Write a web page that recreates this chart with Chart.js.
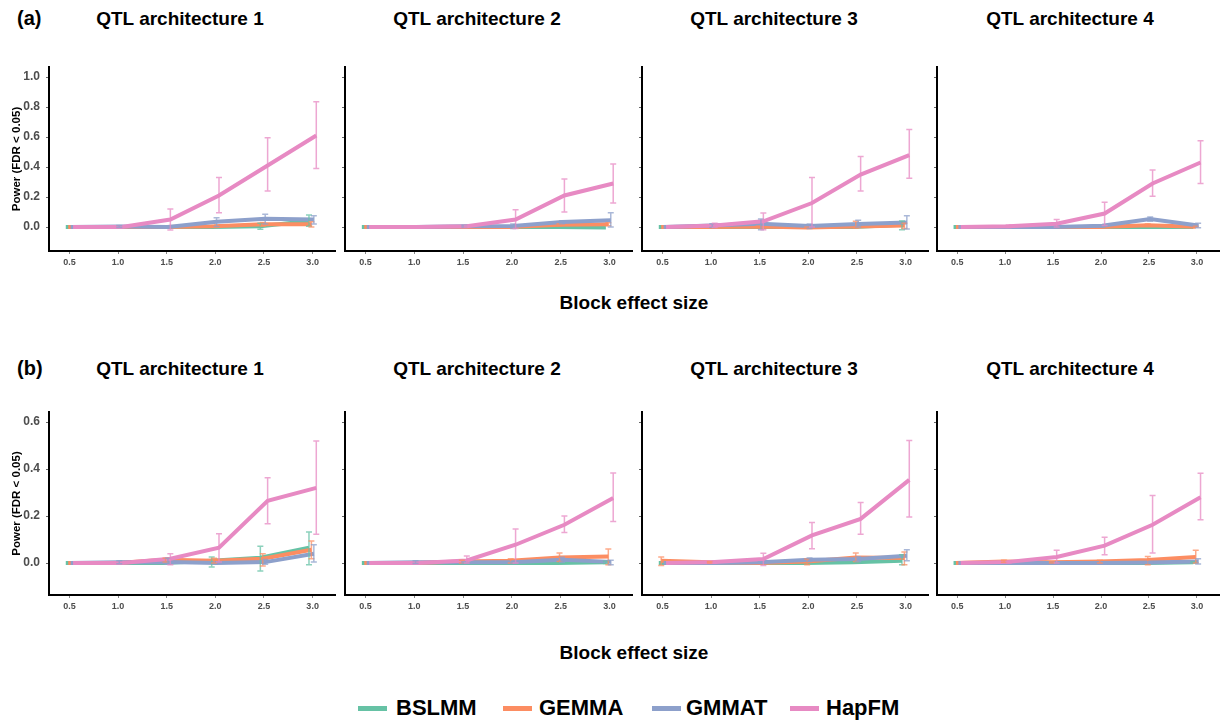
<!DOCTYPE html>
<html>
<head>
<meta charset="utf-8">
<title>Power by block effect size</title>
<script src="https://cdn.jsdelivr.net/npm/chart.js@4.4.1/dist/chart.umd.min.js"></script>
<style>
  body { margin: 0; background: #fff; width: 1221px; height: 721px; position: relative; overflow: hidden;
         font-family: "Liberation Sans", Arial, Helvetica, sans-serif; }
  canvas { position: absolute; }
  .lbl { position: absolute; font-weight: bold; color: #000; white-space: nowrap; line-height: 1; }
  .title { font-size: 19px; transform: translate(-50%, -50%); }
  .tag { font-size: 20px; transform: translateY(-50%); }
  .key { position: absolute; height: 5px; width: 29px; top: 706px; }
  .keytxt { font-size: 22px; top: 697px; }
</style>
</head>
<body>

<div class="lbl tag" style="left:17px; top:18px;">(a)</div>
<div class="lbl tag" style="left:17px; top:368px;">(b)</div>

<div class="lbl title" style="left:180px; top:18px;">QTL architecture 1</div>
<div class="lbl title" style="left:477px; top:18px;">QTL architecture 2</div>
<div class="lbl title" style="left:774px; top:18px;">QTL architecture 3</div>
<div class="lbl title" style="left:1070px; top:18px;">QTL architecture 4</div>

<div class="lbl title" style="left:180px; top:368px;">QTL architecture 1</div>
<div class="lbl title" style="left:477px; top:368px;">QTL architecture 2</div>
<div class="lbl title" style="left:774px; top:368px;">QTL architecture 3</div>
<div class="lbl title" style="left:1070px; top:368px;">QTL architecture 4</div>

<div class="lbl title" style="left:634px; top:302px;">Block effect size</div>
<div class="lbl title" style="left:634px; top:652px;">Block effect size</div>

<div id="legend"></div>

<script>
const effectSizes = [0.5, 1.0, 1.5, 2.0, 2.5, 3.0];
const methods = ['BSLMM', 'GEMMA', 'GMMAT', 'HapFM'];
const colors = ['#66c2a5', '#fc8d62', '#8da0cb', '#e78ac3'];
const dodge = [-0.0375, -0.0125, 0.0125, 0.0375];

// rows: BSLMM, GEMMA, GMMAT, HapFM
const a1Power = [[0, 0, 0, 0, 0.005, 0.04], [0, 0, 0, 0.005, 0.018, 0.018], [0, 0.003, 0, 0.035, 0.055, 0.05], [0, 0, 0.05, 0.21, 0.41, 0.61]];
const a1Lower = [[0, 0, 0, 0, -0.015, 0.005], [0, 0, 0, 0, 0.005, 0], [0, -0.003, 0, 0.004, 0.02, 0.02], [0, 0, -0.02, 0.095, 0.24, 0.39]];
const a1Upper = [[0, 0, 0, 0, 0.025, 0.08], [0, 0, 0, 0.01, 0.03, 0.035], [0, 0.01, 0, 0.062, 0.085, 0.075], [0, 0, 0.12, 0.33, 0.595, 0.835]];

const a2Power = [[0, 0, 0, 0, 0, -0.003], [0, 0, 0, 0, 0.015, 0.018], [0, 0, 0.005, 0.007, 0.033, 0.045], [0, 0, 0.005, 0.05, 0.21, 0.29]];
const a2Lower = [[0, 0, 0, 0, 0, -0.003], [0, 0, 0, 0, 0.008, 0.008], [0, 0, 0, -0.01, 0.022, 0], [0, 0, 0, -0.01, 0.1, 0.16]];
const a2Upper = [[0, 0, 0, 0, 0, -0.003], [0, 0, 0, 0, 0.022, 0.028], [0, 0, 0.012, 0.02, 0.042, 0.095], [0, 0, 0.01, 0.115, 0.32, 0.42]];

const a3Power = [[0, 0, 0, 0, 0, 0.015], [0, 0, 0.003, -0.004, 0.003, 0.01], [0, 0.01, 0.022, 0.007, 0.02, 0.03], [0, 0.01, 0.038, 0.16, 0.35, 0.48]];
const a3Lower = [[0, 0, 0, 0, 0, -0.018], [0, 0, 0, -0.008, -0.007, -0.01], [0, -0.003, -0.018, -0.01, 0, -0.013], [0, -0.004, -0.018, 0, 0.24, 0.325]];
const a3Upper = [[0, 0, 0, 0, 0, 0.04], [0, 0, 0.006, 0, 0.038, 0.025], [0, 0.022, 0.053, 0.02, 0.045, 0.075], [0, 0.025, 0.093, 0.33, 0.47, 0.65]];

const a4Power = [[0, 0, 0, 0, 0, 0], [0, 0, 0, 0, 0.012, 0.002], [0, 0, 0, 0.008, 0.053, 0.01], [0, 0.005, 0.022, 0.09, 0.29, 0.43]];
const a4Lower = [[0, 0, 0, 0, 0, 0], [0, 0, 0, 0, 0.005, 0], [0, 0, 0, 0, 0.038, -0.005], [0, -0.004, 0, 0.01, 0.205, 0.29]];
const a4Upper = [[0, 0, 0, 0, 0, 0], [0, 0, 0, 0, 0.02, 0.005], [0, 0, 0, 0.015, 0.067, 0.025], [0, 0.014, 0.05, 0.165, 0.38, 0.575]];

const b1Power = [[0, 0, 0, 0.01, 0.023, 0.065], [0, 0, 0.014, 0.01, 0.018, 0.057], [0, 0.003, 0.005, 0, 0.004, 0.04], [0, 0, 0.018, 0.065, 0.265, 0.32]];
const b1Lower = [[0, 0, 0, -0.017, -0.034, -0.007], [0, 0, 0.005, 0, -0.013, 0.018], [0, -0.003, -0.005, 0, -0.005, 0.004], [0, 0, -0.007, 0.004, 0.167, 0.123]];
const b1Upper = [[0, 0, 0, 0.026, 0.072, 0.132], [0, 0, 0.02, 0.02, 0.04, 0.094], [0, 0.01, 0.02, 0, 0.015, 0.078], [0, 0, 0.04, 0.125, 0.363, 0.52]];

const b2Power = [[0, 0, 0, 0, 0, 0.003], [0, 0, 0.007, 0.01, 0.024, 0.028], [0, 0.003, 0.003, 0.003, 0.014, 0.005], [0, 0, 0.011, 0.078, 0.163, 0.277]];
const b2Lower = [[0, 0, 0, 0, 0, -0.002], [0, 0, 0, 0, 0.007, -0.007], [0, -0.002, 0, 0, 0.003, -0.007], [0, 0, 0, 0, 0.13, 0.177]];
const b2Upper = [[0, 0, 0, 0, 0, 0.008], [0, 0, 0.012, 0.018, 0.043, 0.06], [0, 0.01, 0.006, 0.006, 0.025, 0.012], [0, 0, 0.03, 0.145, 0.2, 0.383]];

const b3Power = [[0, 0, 0, 0, 0.003, 0.01], [0.01, 0.003, 0, 0.007, 0.024, 0.021], [0, 0, 0.003, 0.014, 0.017, 0.031], [0, 0.005, 0.017, 0.118, 0.188, 0.354]];
const b3Lower = [[0, 0, 0, 0, 0, -0.007], [-0.01, 0, 0, -0.007, 0.007, -0.007], [0, 0, 0, 0.007, 0.007, 0.01], [0, 0, -0.01, 0.061, 0.123, 0.196]];
const b3Upper = [[0, 0, 0, 0, 0.006, 0.035], [0.026, 0.006, 0, 0.017, 0.043, 0.047], [0, 0, 0.006, 0.022, 0.027, 0.057], [0, 0.01, 0.042, 0.173, 0.258, 0.522]];

const b4Power = [[0, 0, 0, 0, 0, 0.003], [0, 0.007, 0.003, 0.007, 0.013, 0.026], [0, 0, 0, 0, 0.002, 0.007], [0, 0.005, 0.026, 0.074, 0.163, 0.28]];
const b4Lower = [[0, 0, 0, 0, 0, 0], [0, 0.003, 0, 0, -0.007, 0], [0, 0, 0, 0, 0, -0.004], [0, 0, 0, 0.035, 0.043, 0.184]];
const b4Upper = [[0, 0, 0, 0, 0, 0.006], [0, 0.012, 0.006, 0.012, 0.028, 0.055], [0, 0, 0, 0, 0.006, 0.018], [0, 0.008, 0.054, 0.11, 0.288, 0.382]];

const xTicks = [0.5, 1.0, 1.5, 2.0, 2.5, 3.0];
const yTicksA = [0, 0.2, 0.4, 0.6, 0.8, 1.0];
const yTicksB = [0, 0.2, 0.4, 0.6];

// plot frames (axis line positions in page pixels)
const cols = [{ left: 49, right: 335 }, { left: 345, right: 632 }, { left: 642, right: 928 }, { left: 937, right: 1219 }];
const rows = [
  { top: 67, bottom: 251, min: -0.16, max: 1.067, ticks: yTicksA },
  { top: 412, bottom: 595, min: -0.136, max: 0.643, ticks: yTicksB }
];

const panels = [
  [a1Power, a1Lower, a1Upper, 0, 0], [a2Power, a2Lower, a2Upper, 0, 1],
  [a3Power, a3Lower, a3Upper, 0, 2], [a4Power, a4Lower, a4Upper, 0, 3],
  [b1Power, b1Lower, b1Upper, 1, 0], [b2Power, b2Lower, b2Upper, 1, 1],
  [b3Power, b3Lower, b3Upper, 1, 2], [b4Power, b4Lower, b4Upper, 1, 3]
];

function withAlpha(hex, a) {
  const n = parseInt(hex.slice(1), 16);
  return `rgba(${n >> 16}, ${(n >> 8) & 255}, ${n & 255}, ${a})`;
}

// vertical error bars with caps, drawn over the lines
const errorBars = {
  id: 'errorBars',
  afterDatasetsDraw(chart) {
    const { ctx, scales: { x, y } } = chart;
    ctx.save();
    ctx.lineWidth = 1.5;
    chart.data.datasets.forEach(ds => {
      ctx.strokeStyle = withAlpha(ds.borderColor, 0.75);
      ds.lower.forEach((lo, i) => {
        const hi = ds.upper[i];
        if (hi - lo < 1e-6) return;
        const px = x.getPixelForValue(ds.data[i].x);
        const y0 = y.getPixelForValue(lo);
        const y1 = y.getPixelForValue(hi);
        ctx.beginPath();
        ctx.moveTo(px, y0); ctx.lineTo(px, y1);
        ctx.moveTo(px - 3, y0); ctx.lineTo(px + 3, y0);
        ctx.moveTo(px - 3, y1); ctx.lineTo(px + 3, y1);
        ctx.stroke();
      });
    });
    ctx.restore();
  }
};

panels.forEach(([power, lower, upper, r, c]) => {
  const row = rows[r], col = cols[c];
  const first = c === 0;
  const yw = first ? 49 : 8;
  const canvas = document.createElement('canvas');
  const w = col.right - col.left + yw + 2;
  const h = row.bottom - row.top + 5 + 25;
  canvas.width = w; canvas.height = h;
  canvas.style.left = (col.left - yw) + 'px';
  canvas.style.top = (row.top - 5) + 'px';
  canvas.style.width = w + 'px'; canvas.style.height = h + 'px';
  document.body.appendChild(canvas);

  const datasets = methods.map((m, k) => ({
    label: m,
    data: effectSizes.map((e, i) => ({ x: e + dodge[k], y: power[k][i] })),
    lower: lower[k],
    upper: upper[k],
    borderColor: colors[k],
    backgroundColor: colors[k],
    borderWidth: 4,
    pointRadius: 0,
    tension: 0,
    order: 3 - k
  }));

  new Chart(canvas, {
    type: 'line',
    data: { datasets },
    options: {
      responsive: false,
      animation: false,
      layout: { padding: { top: 5, right: 2, left: 0, bottom: 0 } },
      plugins: { legend: { display: false }, tooltip: { enabled: false } },
      scales: {
        x: {
          type: 'linear',
          min: 0.29, max: 3.23,
          afterBuildTicks: s => { s.ticks = xTicks.map(v => ({ value: v })); },
          afterFit: s => { s.height = 25; s.paddingLeft = 0; s.paddingRight = 0; },
          grid: { display: true, drawOnChartArea: false, drawTicks: true, tickLength: 3, color: '#888' },
          border: { display: true, color: '#000', width: 2 },
          ticks: {
            padding: 3,
            color: '#4d4d4d',
            font: { family: 'Liberation Sans', weight: 'bold', size: 9 },
            callback: v => v.toFixed(1)
          }
        },
        y: {
          min: row.min, max: row.max,
          afterBuildTicks: s => { s.ticks = row.ticks.map(v => ({ value: v })); },
          afterFit: s => { s.width = yw; s.paddingTop = 0; s.paddingBottom = 0; },
          grid: { display: true, drawOnChartArea: false, drawTicks: true, tickLength: 3, color: '#666' },
          border: { display: true, color: '#000', width: 2 },
          ticks: {
            display: first,
            padding: 6,
            color: '#4d4d4d',
            font: { family: 'Liberation Sans', weight: 'bold', size: 12 },
            callback: v => v.toFixed(1)
          },
          title: {
            display: first,
            text: 'Power (FDR < 0.05)',
            color: '#000',
            padding: { top: 10, bottom: 0 },
            font: { family: 'Liberation Sans', weight: 'bold', size: 11.5 }
          }
        }
      }
    },
    plugins: [errorBars]
  });
});

// legend strip along the bottom
const legendLines = [358, 503, 652, 790];
const legendText = [396, 539, 686, 826];
const legend = document.getElementById('legend');
methods.forEach((m, k) => {
  const key = document.createElement('div');
  key.className = 'key';
  key.style.left = legendLines[k] + 'px';
  key.style.background = colors[k];
  legend.appendChild(key);
  const txt = document.createElement('div');
  txt.className = 'lbl keytxt';
  txt.style.left = legendText[k] + 'px';
  txt.textContent = m;
  legend.appendChild(txt);
});
</script>
</body>
</html>
